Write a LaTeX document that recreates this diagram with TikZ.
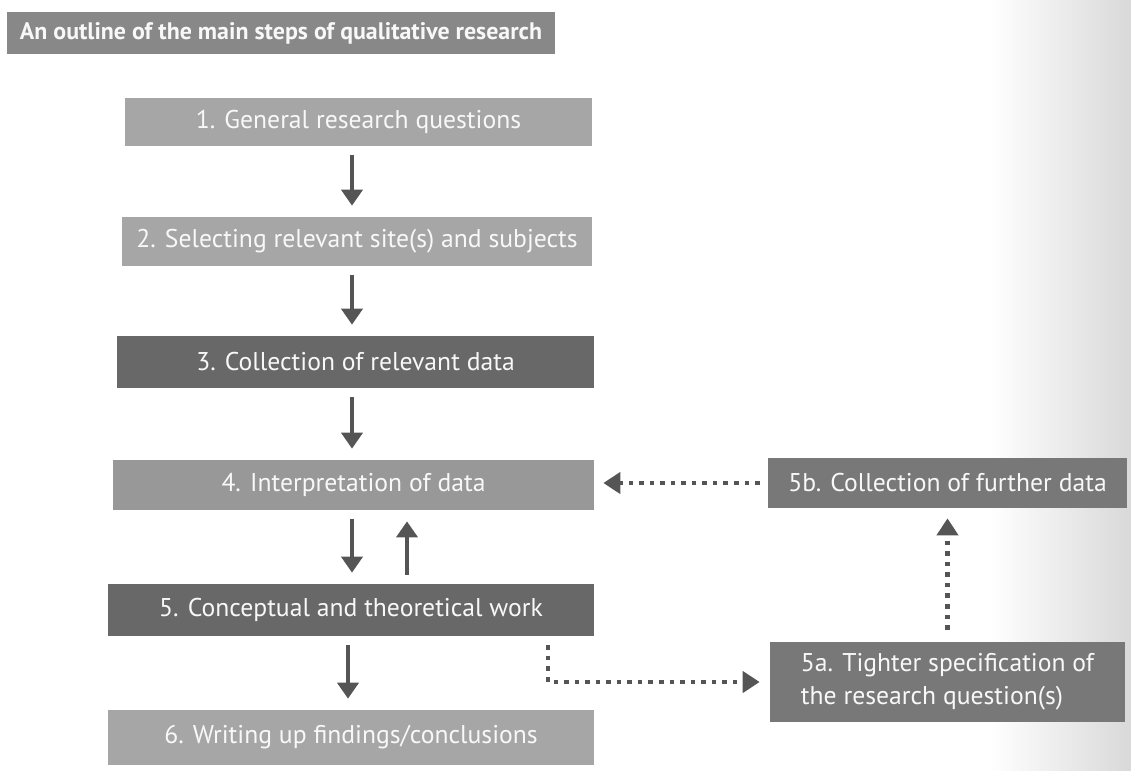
\documentclass[tikz,border=0pt]{standalone}
\usepackage{fontspec}
\setmainfont{PT Sans}
\usepackage{tikz}
\usetikzlibrary{arrows.meta, positioning}
\definecolor{titlegray}{RGB}{136, 136, 136}
\definecolor{lightbox}{RGB}{166, 166, 166}
\definecolor{midbox}{RGB}{152, 152, 152}
\definecolor{darkbox}{RGB}{104, 104, 104}
\definecolor{sidebox}{RGB}{120, 120, 120}
\definecolor{arrowgray}{RGB}{85, 85, 85}
\definecolor{boxtext}{RGB}{248, 248, 248}

\begin{document}
\begin{tikzpicture}[
  stepbox/.style={
    rectangle, fill=#1, text=boxtext, inner sep=0pt,
    minimum height=0.98cm, font=\fontsize{14.6}{18.7}\selectfont, align=center
  },
  heading/.style={
    rectangle, fill=titlegray, text=boxtext, inner sep=0pt,
    font=\fontsize{13.6}{16}\selectfont\bfseries
  },
  flow/.style={draw=arrowgray, line width=2.2pt,
    -{Triangle[width=0.42cm, length=0.32cm]},
    shorten <=0.18cm, shorten >=0.22cm},
  loopback/.style={draw=arrowgray, line width=2.6pt,
    dash pattern=on 2.6pt off 3.4pt,
    -{Triangle[width=0.42cm, length=0.34cm]}},
]
\useasboundingbox (0, 0) rectangle (22.62, -15.4);

% page shadow on the right
\shade[left color=white, right color=black!15] (19.8, 0) rectangle (22.62, -15.4);

\def\colM{7.04}
\def\colUp{8.14}
\def\colLast{6.96}
\def\colTurn{10.96}

% title bar
\node[heading, minimum width=10.96cm, minimum height=0.84cm] (title) at (5.62, -0.66)
  {An outline of the main steps of qualitative research};

% main column
\node[stepbox=lightbox, minimum width=9.34cm, minimum height=0.96cm] (general)    at (7.17, -2.44)  {1. General research questions};
\node[stepbox=lightbox, minimum width=9.40cm]                        (selecting)  at (7.14, -4.83)  {2. Selecting relevant site(s) and subjects};
\node[stepbox=darkbox,  minimum width=9.54cm, minimum height=1.04cm] (collection) at (7.11, -7.24)  {3. Collection of relevant data};
\node[stepbox=midbox,   minimum width=9.62cm, minimum height=1.00cm] (interp)     at (7.07, -9.70)  {4. Interpretation of data};
\node[stepbox=darkbox,  minimum width=9.72cm, minimum height=1.04cm] (concept)    at (7.02, -12.20) {5. Conceptual and theoretical work};
\node[stepbox=lightbox, minimum width=9.72cm, minimum height=1.10cm] (writing)    at (7.02, -14.75) {6. Writing up findings/conclusions};

% side column
\node[stepbox=sidebox, minimum width=7.18cm, minimum height=1.00cm] (further) at (18.95, -9.66) {5b. Collection of further data};
\node[stepbox=sidebox, minimum width=7.10cm, minimum height=1.60cm, align=left] (tighter) at (18.95, -13.64)
  {5a. Tighter specification of\\the research question(s)};

\coordinate (mid)  at (\colM, 0);
\coordinate (up)   at (\colUp, 0);
\coordinate (last) at (\colLast, 0);
\coordinate (turn) at (\colTurn, 0);

% 1-4 straight down
\draw[flow] (general.south -| mid)    -- (selecting.north -| mid);
\draw[flow] (selecting.south -| mid)  -- (collection.north -| mid);
\draw[flow] (collection.south -| mid) -- (interp.north -| mid);

% 4 <-> 5
\draw[flow] (interp.south -| mid) -- (concept.north -| mid);
\draw[flow] (concept.north -| up) -- (interp.south -| up);

% 5 -> 6
\draw[flow] (concept.south -| last) -- (writing.north -| last);

% 5 -> 5a -> 5b -> 4
\draw[loopback, shorten <=0.18cm, shorten >=0.2cm] (concept.south -| turn) |- (tighter.west);
\draw[loopback, shorten <=0.24cm, shorten >=0.2cm] (tighter.north) -- (further.south);
\draw[loopback, shorten <=0.16cm, shorten >=0.18cm] (further.west) -- (further.west -| interp.east);

\end{tikzpicture}
\end{document}
